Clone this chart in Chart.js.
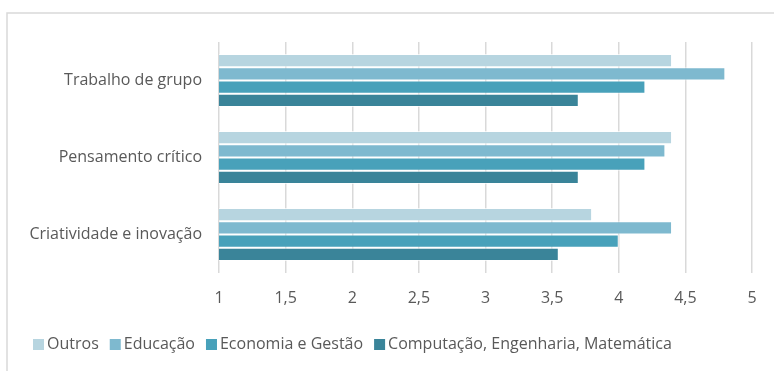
<!DOCTYPE html>
<html>
<head>
<meta charset="utf-8">
<script src="https://cdn.jsdelivr.net/npm/chart.js@4"></script>
<style>
  html, body { margin: 0; padding: 0; background: #fff; }
  #wrap { position: relative; width: 774px; height: 371px; }
</style>
</head>
<body>
<div id="wrap"><canvas id="grafico" width="774" height="371"></canvas></div>
<script>
// competências por área de formação (média, escala 1-5)
const categorias = ['Trabalho de grupo', 'Pensamento crítico', 'Criatividade e inovação'];
const series = ['Outros', 'Educação', 'Economia e Gestão', 'Computação, Engenharia, Matemática'];
const outros = [4.4, 4.4, 3.8];
const educacao = [4.8, 4.35, 4.4];
const economia = [4.2, 4.2, 4.0];
const computacao = [3.7, 3.7, 3.55];
const cores = ['#b7d5e0', '#7eb9cf', '#48a1ba', '#3a8499'];

const fonte = "'Open Sans', sans-serif";
const cinza = '#595959';

// moldura do gráfico (só topo e esquerda ficam visíveis)
const moldura = {
  id: 'moldura',
  beforeDraw(chart) {
    const c = chart.ctx;
    c.save();
    c.strokeStyle = '#d9d9d9';
    c.lineWidth = 1.5;
    c.beginPath();
    c.moveTo(7, chart.height + 2);
    c.lineTo(7, 13);
    c.lineTo(chart.width + 2, 13);
    c.stroke();
    c.restore();
  }
};

// legenda desenhada à mão: quadrado colado ao texto, tudo numa linha
const legendaBaixo = {
  id: 'legendaBaixo',
  afterDraw(chart) {
    const c = chart.ctx;
    const y = 344.5;
    let x = 33;
    c.save();
    c.font = '16px ' + fonte;
    c.textBaseline = 'middle';
    c.textAlign = 'left';
    chart.data.datasets.forEach(ds => {
      c.fillStyle = ds.backgroundColor;
      c.fillRect(x, y - 5.5, 11, 11);
      x += 14;
      c.fillStyle = cinza;
      c.fillText(ds.label, x, y);
      x += c.measureText(ds.label).width + 11;
    });
    c.restore();
  }
};

const valores = [outros, educacao, economia, computacao];

new Chart(document.getElementById('grafico'), {
  type: 'bar',
  data: {
    labels: categorias,
    datasets: series.map((nome, i) => ({
      label: nome,
      data: valores[i],
      backgroundColor: cores[i],
      borderColor: 'rgba(255,255,255,0.7)',
      borderWidth: 1,
      categoryPercentage: 0.69,
      barPercentage: 1
    }))
  },
  options: {
    indexAxis: 'y',
    responsive: false,
    animation: false,
    layout: { padding: { left: 0, right: 22, top: 42, bottom: 58 } },
    scales: {
      x: {
        min: 1,
        max: 5,
        ticks: {
          stepSize: 0.5,
          padding: 16,
          color: cinza,
          font: { family: fonte, size: 16 },
          callback: v => String(v).replace('.', ',')
        },
        grid: { color: '#d9d9d9', lineWidth: 1.5, drawTicks: false },
        border: { display: false },
        afterFit: s => { s.height = 40; }
      },
      y: {
        ticks: {
          padding: 17,
          color: cinza,
          font: { family: fonte, size: 16 }
        },
        grid: { display: false, drawTicks: false },
        border: { display: false },
        afterFit: s => { s.width = 219; }
      }
    },
    plugins: {
      legend: { display: false },
      tooltip: { enabled: false }
    }
  },
  plugins: [moldura, legendaBaixo]
});
</script>
</body>
</html>
